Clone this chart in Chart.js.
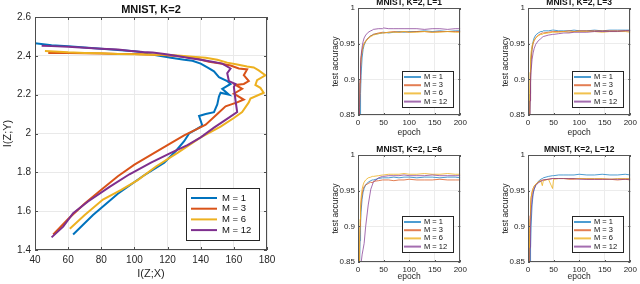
<!DOCTYPE html>
<html>
<head>
<meta charset="utf-8">
<script src="https://cdn.jsdelivr.net/npm/chart.js@4.4.1/dist/chart.umd.min.js"></script>
<style>
  body { margin: 0; background: #fff; width: 640px; height: 284px; overflow: hidden; position: relative; }
  canvas { position: absolute; }
</style>
</head>
<body>
<canvas id="main" width="290" height="284" style="left:0;top:0"></canvas>
<canvas id="l1" width="170" height="140" style="left:300px;top:0"></canvas>
<canvas id="l3" width="170" height="140" style="left:470px;top:0"></canvas>
<canvas id="l6" width="170" height="144" style="left:300px;top:140px"></canvas>
<canvas id="l12" width="170" height="144" style="left:470px;top:140px"></canvas>
<script>
// --- information plane, I(Z;X) vs I(Z;Y) ---
var izx_m1 = [63, 75, 90, 105, 118, 125, 130, 133, 137, 141, 139, 143, 148, 150, 151, 152, 157, 153, 158, 156, 151, 148, 144, 140, 135, 130, 122, 115, 108, 105, 100, 90, 80, 70, 60, 50, 40];
var izy_m1 = [1.48, 1.58, 1.69, 1.78, 1.85, 1.91, 1.96, 2.0, 2.02, 2.04, 2.09, 2.10, 2.11, 2.15, 2.19, 2.21, 2.20, 2.23, 2.255, 2.27, 2.29, 2.32, 2.34, 2.36, 2.375, 2.38, 2.39, 2.40, 2.41, 2.418, 2.424, 2.43, 2.437, 2.443, 2.45, 2.455, 2.465];
var izx_m3 = [51, 60, 70, 80, 90, 100, 112, 122, 130, 137, 143, 150, 155, 162, 166, 160, 165, 161, 166, 169, 166, 168, 163, 158, 152, 145, 138, 130, 123, 115, 108, 100, 90, 80, 70, 60, 48];
var izy_m3 = [1.48, 1.56, 1.64, 1.71, 1.78, 1.84, 1.90, 1.95, 1.99, 2.02, 2.045, 2.10, 2.14, 2.16, 2.175, 2.205, 2.23, 2.25, 2.255, 2.27, 2.30, 2.33, 2.335, 2.35, 2.36, 2.37, 2.385, 2.395, 2.40, 2.405, 2.407, 2.41, 2.41, 2.412, 2.413, 2.414, 2.415];
var izx_m6 = [61, 70, 81, 92, 102, 113, 126, 140, 152, 160, 165, 169, 170, 178, 176, 173, 174, 179, 175, 172, 168, 162, 156, 150, 143, 135, 128, 120, 110, 100, 90, 80, 70, 60, 46];
var izy_m6 = [1.51, 1.58, 1.66, 1.71, 1.76, 1.83, 1.90, 1.98, 2.035, 2.08, 2.11, 2.16, 2.18, 2.21, 2.235, 2.25, 2.275, 2.30, 2.325, 2.34, 2.345, 2.355, 2.365, 2.38, 2.39, 2.395, 2.40, 2.405, 2.405, 2.408, 2.41, 2.413, 2.415, 2.418, 2.425];
var izx_m12 = [50, 57, 63, 72, 85, 97, 110, 122, 132, 140, 148, 155, 162, 161, 160, 161, 157, 156, 158, 153, 147, 140, 132, 125, 118, 111, 105, 98, 90, 80, 70, 60, 50, 44];
var izy_m12 = [1.465, 1.52, 1.59, 1.65, 1.725, 1.79, 1.85, 1.90, 1.94, 1.98, 2.03, 2.07, 2.11, 2.17, 2.24, 2.255, 2.27, 2.31, 2.335, 2.36, 2.37, 2.38, 2.39, 2.40, 2.41, 2.417, 2.42, 2.425, 2.432, 2.437, 2.442, 2.447, 2.45, 2.452];

// --- test accuracy per epoch ---
var epochs = [1, 2, 3, 4, 5, 6, 8, 10, 12, 15, 20, 25, 28, 30, 40, 48, 50, 60, 70, 80, 90, 100, 115, 130, 145, 160, 175, 190, 200];

var acc_l1_m1 = [0.60, 0.70, 0.78, 0.84, 0.88, 0.905, 0.93, 0.942, 0.948, 0.953, 0.958, 0.961, 0.962, 0.963, 0.964, 0.965, 0.966, 0.965, 0.966, 0.967, 0.966, 0.967, 0.967, 0.968, 0.967, 0.968, 0.967, 0.968, 0.968];
var acc_l1_m3 = [0.70, 0.80, 0.86, 0.895, 0.915, 0.928, 0.94, 0.946, 0.95, 0.954, 0.958, 0.961, 0.962, 0.963, 0.965, 0.966, 0.965, 0.966, 0.967, 0.966, 0.967, 0.966, 0.967, 0.967, 0.966, 0.967, 0.967, 0.967, 0.967];
var acc_l1_m6 = [0.72, 0.82, 0.87, 0.90, 0.918, 0.93, 0.94, 0.946, 0.95, 0.953, 0.957, 0.96, 0.961, 0.962, 0.964, 0.965, 0.965, 0.966, 0.966, 0.966, 0.967, 0.966, 0.966, 0.967, 0.966, 0.966, 0.967, 0.966, 0.966];
var acc_l1_m12 = [0.70, 0.80, 0.86, 0.90, 0.92, 0.933, 0.945, 0.953, 0.958, 0.962, 0.966, 0.968, 0.969, 0.970, 0.971, 0.971, 0.972, 0.971, 0.971, 0.971, 0.971, 0.971, 0.971, 0.970, 0.971, 0.971, 0.970, 0.971, 0.971];

var acc_l3_m1 = [0.62, 0.74, 0.83, 0.88, 0.91, 0.93, 0.945, 0.953, 0.958, 0.962, 0.965, 0.967, 0.967, 0.968, 0.968, 0.969, 0.969, 0.968, 0.968, 0.968, 0.969, 0.968, 0.968, 0.969, 0.968, 0.969, 0.969, 0.969, 0.969];
var acc_l3_m3 = [0.60, 0.72, 0.82, 0.87, 0.905, 0.925, 0.942, 0.95, 0.954, 0.958, 0.962, 0.964, 0.965, 0.965, 0.966, 0.967, 0.967, 0.967, 0.967, 0.968, 0.967, 0.968, 0.968, 0.968, 0.968, 0.968, 0.968, 0.968, 0.968];
var acc_l3_m6 = [0.70, 0.82, 0.88, 0.91, 0.928, 0.938, 0.947, 0.952, 0.955, 0.958, 0.961, 0.963, 0.963, 0.964, 0.965, 0.966, 0.966, 0.966, 0.967, 0.966, 0.967, 0.967, 0.967, 0.967, 0.966, 0.967, 0.967, 0.967, 0.966];
var acc_l3_m12 = [0.62, 0.74, 0.82, 0.87, 0.895, 0.912, 0.928, 0.937, 0.943, 0.949, 0.954, 0.957, 0.959, 0.96, 0.962, 0.963, 0.963, 0.964, 0.965, 0.965, 0.966, 0.966, 0.966, 0.967, 0.967, 0.967, 0.967, 0.968, 0.968];

var acc_l6_m1 = [0.65, 0.76, 0.84, 0.88, 0.905, 0.92, 0.938, 0.948, 0.953, 0.958, 0.962, 0.964, 0.965, 0.965, 0.967, 0.968, 0.968, 0.968, 0.969, 0.968, 0.969, 0.969, 0.968, 0.969, 0.969, 0.968, 0.969, 0.969, 0.968];
var acc_l6_m3 = [0.68, 0.80, 0.87, 0.90, 0.92, 0.932, 0.945, 0.952, 0.956, 0.958, 0.96, 0.962, 0.961, 0.963, 0.964, 0.965, 0.965, 0.965, 0.964, 0.965, 0.965, 0.966, 0.965, 0.965, 0.965, 0.966, 0.965, 0.965, 0.965];
var acc_l6_m6 = [0.70, 0.82, 0.88, 0.91, 0.93, 0.94, 0.952, 0.958, 0.962, 0.965, 0.968, 0.969, 0.970, 0.970, 0.971, 0.972, 0.972, 0.973, 0.973, 0.973, 0.974, 0.973, 0.973, 0.974, 0.973, 0.973, 0.974, 0.973, 0.973];
var acc_l6_m12 = [0.55, 0.65, 0.72, 0.78, 0.82, 0.848, 0.86, 0.868, 0.876, 0.90, 0.93, 0.952, 0.958, 0.962, 0.968, 0.970, 0.970, 0.971, 0.971, 0.971, 0.972, 0.971, 0.971, 0.971, 0.972, 0.971, 0.971, 0.971, 0.971];

var acc_l12_m1 = [0.55, 0.65, 0.75, 0.82, 0.87, 0.90, 0.93, 0.945, 0.952, 0.958, 0.963, 0.966, 0.967, 0.968, 0.970, 0.971, 0.971, 0.972, 0.972, 0.972, 0.972, 0.973, 0.972, 0.972, 0.973, 0.972, 0.972, 0.973, 0.972];
var acc_l12_m3 = [0.72, 0.84, 0.89, 0.915, 0.93, 0.94, 0.948, 0.953, 0.956, 0.959, 0.962, 0.964, 0.965, 0.965, 0.966, 0.967, 0.967, 0.967, 0.967, 0.966, 0.966, 0.967, 0.966, 0.966, 0.966, 0.966, 0.965, 0.966, 0.965];
var acc_l12_m6 = [0.70, 0.82, 0.88, 0.91, 0.93, 0.94, 0.948, 0.953, 0.956, 0.959, 0.962, 0.964, 0.957, 0.964, 0.966, 0.953, 0.966, 0.967, 0.967, 0.967, 0.967, 0.967, 0.967, 0.967, 0.967, 0.966, 0.967, 0.967, 0.967];
var acc_l12_m12 = [0.62, 0.74, 0.82, 0.87, 0.90, 0.92, 0.938, 0.947, 0.952, 0.957, 0.961, 0.963, 0.964, 0.965, 0.966, 0.967, 0.967, 0.967, 0.967, 0.967, 0.967, 0.966, 0.966, 0.966, 0.966, 0.966, 0.966, 0.966, 0.966];

var seriesLabels = ["M = 1", "M = 3", "M = 6", "M = 12"];
var FONT = '"Liberation Sans", Arial, Helvetica, sans-serif';
var colors = ["#0072BD", "#D95319", "#EDB120", "#7E2F8E"];
var softColors = ["rgba(0,114,189,0.7)", "rgba(217,83,25,0.75)", "rgba(237,177,32,0.8)", "rgba(126,47,142,0.7)"];

Chart.defaults.font.family = FONT;
Chart.defaults.color = "#262626";

function pts(xs, ys) {
  return xs.map(function(x, i) { return { x: x, y: ys[i] }; });
}

// MATLAB-style box, inward ticks and bold title
var framePlugin = {
  id: "frame",
  afterDatasetsDraw: function(chart, args, o) {
    var ctx = chart.ctx, a = chart.chartArea, sx = chart.scales.x, sy = chart.scales.y;
    ctx.save();
    ctx.strokeStyle = o.color;
    ctx.lineWidth = 1;
    ctx.beginPath();
    sx.ticks.forEach(function(t) {
      var p = Math.round(sx.getPixelForValue(t.value)) + 0.5;
      ctx.moveTo(p, a.bottom); ctx.lineTo(p, a.bottom - o.tick);
      ctx.moveTo(p, a.top); ctx.lineTo(p, a.top + o.tick);
    });
    sy.ticks.forEach(function(t) {
      var p = Math.round(sy.getPixelForValue(t.value)) + 0.5;
      ctx.moveTo(a.left, p); ctx.lineTo(a.left + o.tick, p);
      ctx.moveTo(a.right, p); ctx.lineTo(a.right - o.tick, p);
    });
    ctx.stroke();
    ctx.strokeRect(Math.round(a.left) + 0.5, Math.round(a.top) + 0.5, Math.round(a.width) - 1, Math.round(a.height) - 1);
    ctx.fillStyle = "#111";
    ctx.font = "bold " + o.titleSize + "px " + FONT;
    ctx.textAlign = "center";
    ctx.textBaseline = "alphabetic";
    ctx.fillText(o.title, (a.left + a.right) / 2, a.top - o.titleGap);
    ctx.restore();
  }
};

// legend box in the lower right of the plot area
var boxLegend = {
  id: "boxLegend",
  afterDraw: function(chart, args, o) {
    var ctx = chart.ctx, a = chart.chartArea;
    var x0 = Math.round(a.right - o.inset[0] - o.w), y0 = Math.round(a.bottom - o.inset[1] - o.h);
    ctx.save();
    ctx.fillStyle = "#fff";
    ctx.fillRect(x0, y0, o.w, o.h);
    ctx.strokeStyle = "#262626";
    ctx.lineWidth = 1;
    ctx.strokeRect(x0 + 0.5, y0 + 0.5, o.w, o.h);
    ctx.font = o.size + "px " + FONT;
    ctx.textBaseline = "middle";
    ctx.textAlign = "left";
    chart.data.datasets.forEach(function(ds, i) {
      var y = y0 + o.first + i * o.gap;
      ctx.strokeStyle = o.colors[i];
      ctx.lineWidth = o.lw;
      ctx.beginPath();
      ctx.moveTo(x0 + o.l0, y);
      ctx.lineTo(x0 + o.l1, y);
      ctx.stroke();
      ctx.fillStyle = "#111";
      ctx.fillText(ds.label, x0 + o.tx, y);
    });
    ctx.restore();
  }
};

function numLabel(v) { return String(+v.toFixed(2)); }

new Chart(document.getElementById("main"), {
  type: "scatter",
  data: {
    datasets: [
      [izx_m1, izy_m1], [izx_m3, izy_m3], [izx_m6, izy_m6], [izx_m12, izy_m12]
    ].map(function(s, i) {
      return {
        label: seriesLabels[i], data: pts(s[0], s[1]), showLine: true,
        borderColor: colors[i], borderWidth: 2, pointRadius: 0, order: 3 - i
      };
    })
  },
  options: {
    responsive: false, animation: false,
    layout: { padding: { left: 0, top: 17, right: 23, bottom: 0 } },
    plugins: {
      legend: { display: false }, tooltip: { enabled: false },
      frame: { color: "#4d4d4d", tick: 3, title: "MNIST, K=2", titleSize: 11, titleGap: 4 },
      boxLegend: { w: 73, h: 52, inset: [8, 10], first: 10, gap: 10.7, l0: 5, l1: 31, tx: 36, size: 9.5, lw: 2, colors: colors }
    },
    scales: {
      x: {
        type: "linear", min: 40, max: 180,
        ticks: { stepSize: 20, font: { size: 10 }, padding: 4 },
        grid: { color: "#e9e9e9", drawTicks: false },
        border: { display: false },
        title: { display: true, text: "I(Z;X)", font: { size: 11 }, padding: { top: 0, bottom: 3 } },
        afterFit: function(s) { s.height = 34; }
      },
      y: {
        min: 1.4, max: 2.6,
        ticks: { stepSize: 0.2, font: { size: 10 }, padding: 4, callback: numLabel },
        grid: { color: "#e9e9e9", drawTicks: false },
        border: { display: false },
        title: { display: true, text: "I(Z;Y)", font: { size: 11 }, padding: { top: 1, bottom: 0 } },
        afterFit: function(s) { s.width = 35; }
      }
    }
  },
  plugins: [framePlugin, boxLegend]
});

function accChart(id, title, series, top, bottomH, right, legBottom) {
  new Chart(document.getElementById(id), {
    type: "scatter",
    data: {
      datasets: series.map(function(s, i) {
        return {
          label: seriesLabels[i], data: pts(epochs, s), showLine: true,
          borderColor: softColors[i], borderWidth: 1, pointRadius: 0, order: 3 - i
        };
      })
    },
    options: {
      responsive: false, animation: false,
      layout: { padding: { left: 31, top: top, right: right, bottom: 0 } },
      plugins: {
        legend: { display: false }, tooltip: { enabled: false },
        frame: { color: "#555", tick: 2, title: title, titleSize: 8.5, titleGap: 3 },
        boxLegend: { w: 51, h: 36, inset: [7, legBottom], first: 6, gap: 8.2, l0: 2, l1: 19, tx: 22, size: 7.5, lw: 2, colors: softColors }
      },
      scales: {
        x: {
          type: "linear", min: 0, max: 200,
          ticks: { stepSize: 50, font: { size: 8 }, padding: 3 },
          grid: { color: "#ececec", drawTicks: false },
          border: { display: false },
          title: { display: true, text: "epoch", font: { size: 8.5 }, padding: { top: 0, bottom: 2 } },
          afterFit: function(s) { s.height = bottomH; }
        },
        y: {
          min: 0.85, max: 1,
          ticks: { stepSize: 0.05, font: { size: 8 }, padding: 3, callback: numLabel },
          grid: { color: "#ececec", drawTicks: false },
          border: { display: false },
          title: { display: true, text: "test accuracy", font: { size: 8.5 }, padding: { top: 0, bottom: 0 } },
          afterFit: function(s) { s.width = 27; }
        }
      }
    },
    plugins: [framePlugin, boxLegend]
  });
}

accChart("l1", "MNIST, K=2, L=1", [acc_l1_m1, acc_l1_m3, acc_l1_m6, acc_l1_m12], 8, 25, 6, 8);
accChart("l3", "MNIST, K=2, L=3", [acc_l3_m1, acc_l3_m3, acc_l3_m6, acc_l3_m12], 8, 25, 7, 8);
accChart("l6", "MNIST, K=2, L=6", [acc_l6_m1, acc_l6_m3, acc_l6_m6, acc_l6_m12], 15, 22, 6, 10);
accChart("l12", "MNIST, K=2, L=12", [acc_l12_m1, acc_l12_m3, acc_l12_m6, acc_l12_m12], 15, 22, 7, 10);
</script>
</body>
</html>
